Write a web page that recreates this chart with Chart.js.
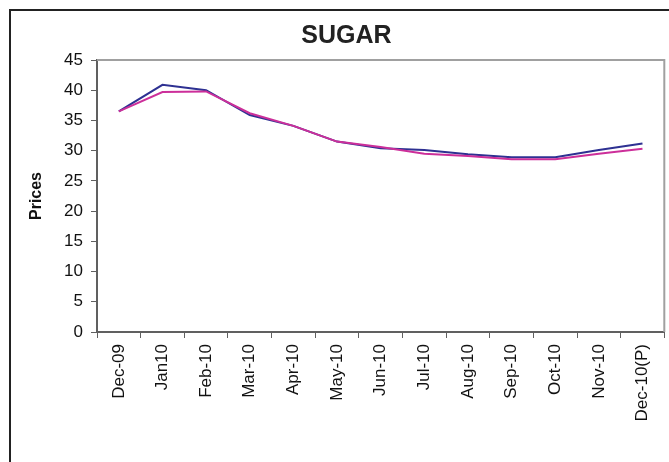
<!DOCTYPE html>
<html>
<head>
<meta charset="utf-8">
<script src="https://cdn.jsdelivr.net/npm/chart.js@4/dist/chart.umd.min.js"></script>
<style>
  html, body { margin: 0; padding: 0; background: #fff; overflow: hidden; }
  #wrap { position: relative; width: 669px; height: 462px; }
  #frame { position: absolute; left: 9px; top: 9px; width: 700px; height: 500px;
           border: 2px solid #222; box-sizing: border-box; }
  canvas { position: absolute; left: 0; top: 0; }
</style>
</head>
<body>
<div id="wrap">
  <div id="frame"></div>
  <canvas id="sugarChart" width="669" height="462"></canvas>
</div>
<script>
// SUGAR monthly prices, Dec-09 .. Dec-10 (provisional)
const months = ["Dec-09", "Jan10", "Feb-10", "Mar-10", "Apr-10", "May-10", "Jun-10",
                "Jul-10", "Aug-10", "Sep-10", "Oct-10", "Nov-10", "Dec-10(P)"];
const series1 = [36.5, 40.9, 40.0, 35.9, 34.1, 31.5, 30.4, 30.1, 29.4, 28.9, 28.9, 30.1, 31.2];
const series2 = [36.5, 39.7, 39.8, 36.2, 34.1, 31.5, 30.6, 29.5, 29.1, 28.6, 28.6, 29.5, 30.3];
const yTicks = { min: 0, max: 45, step: 5 };

const FONT = "'Liberation Sans', Arial, sans-serif";

// gray box around the plot area (top/right edges; axes draw left/bottom)
const plotFrame = {
  id: "plotFrame",
  beforeDatasetsDraw(chart) {
    const { ctx, chartArea: a } = chart;
    ctx.save();
    ctx.strokeStyle = "#a0a0a0";
    ctx.lineWidth = 2;
    ctx.beginPath();
    ctx.moveTo(a.left, a.top);
    ctx.lineTo(a.right, a.top);
    ctx.lineTo(a.right, a.bottom);
    ctx.stroke();
    ctx.restore();
  },
};

new Chart(document.getElementById("sugarChart"), {
  type: "line",
  data: {
    labels: months,
    datasets: [
      { label: "Series 1", data: series1, borderColor: "#2e3192", borderWidth: 2,
        pointRadius: 0, tension: 0, order: 2 },
      { label: "Series 2", data: series2, borderColor: "#cc2f9a", borderWidth: 2,
        pointRadius: 0, tension: 0, order: 1 },
    ],
  },
  options: {
    responsive: false,
    animation: false,
    layout: { padding: { left: 27, right: 3, top: 0, bottom: 0 } },
    plugins: {
      legend: { display: false },
      tooltip: { enabled: false },
      title: {
        display: true, text: "SUGAR", color: "#222",
        font: { family: FONT, size: 25, weight: "bold", lineHeight: 1.2 },
        padding: { top: 21, bottom: 9 },
      },
    },
    scales: {
      x: {
        offset: true,
        grid: { display: true, offset: true, drawOnChartArea: false, tickLength: 6,
                color: "#606060", lineWidth: 1 },
        border: { color: "#606060", width: 2 },
        ticks: { color: "#111", font: { family: FONT, size: 17 }, padding: 6,
                 minRotation: 90, maxRotation: 90, autoSkip: false },
        afterFit: s => { s.height = 130; },
      },
      y: {
        min: yTicks.min, max: yTicks.max,
        grid: { display: true, drawOnChartArea: false, tickLength: 6, color: "#606060" },
        border: { color: "#606060", width: 2 },
        ticks: { stepSize: yTicks.step, color: "#111", font: { family: FONT, size: 17 }, padding: 8 },
        title: { display: true, text: "Prices", color: "#111", padding: 0,
                 font: { family: FONT, size: 16, weight: "bold" } },
        afterFit: s => { s.width = 70; },
      },
    },
  },
  plugins: [plotFrame],
});
</script>
</body>
</html>
